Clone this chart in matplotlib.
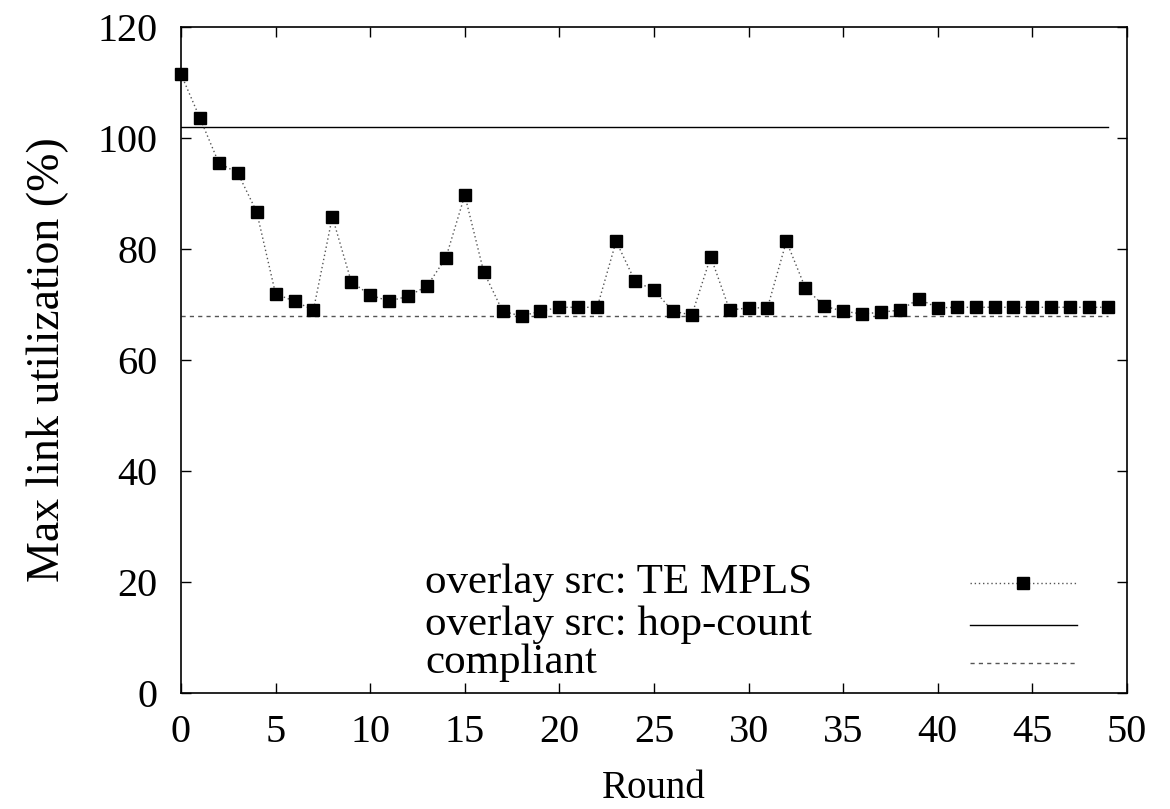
import matplotlib
matplotlib.use("Agg")
import matplotlib.pyplot as plt

plt.rcParams["font.family"] = ["Liberation Serif", "DejaVu Serif"]

# ── Data ──────────────────────────────────────────────────────────────────────
rounds = list(range(50))
te_mpls = [111.5, 103.6, 95.5, 93.7, 86.7, 71.9, 70.6, 69.0, 85.8, 74.1,
           71.7, 70.6, 71.5, 73.3, 78.4, 89.7, 75.9, 68.8, 67.9, 68.8,
           69.5, 69.5, 69.5, 81.4, 74.2, 72.6, 68.8, 68.1, 78.6, 69.0,
           69.4, 69.4, 81.4, 73.0, 69.7, 68.8, 68.3, 68.6, 69.0, 71.0,
           69.4, 69.5, 69.5, 69.5, 69.5, 69.5, 69.5, 69.5, 69.5, 69.5]
hop_count = 102.0
compliant = 68.0
labels = ["overlay src: TE MPLS", "overlay src: hop-count", "compliant"]

fig = plt.figure(figsize=(11.7, 8.09), dpi=100)
ax = fig.add_axes([0.1547, 0.1434, 0.9632 - 0.1547, 0.9666 - 0.1434])

te_style = dict(color="#555555", ls=(0, (1, 2)), lw=1.0)
hop_style = dict(color="black", lw=1.0)
comp_style = dict(color="#555555", ls=(0, (3, 3)), lw=1.0)
mk = dict(marker="s", ms=9, mfc="black", mec="black")

ax.plot(rounds, te_mpls, **te_style, **mk, clip_on=False, zorder=3)
ax.plot([rounds[0], rounds[-1]], [hop_count, hop_count], **hop_style)
ax.plot([rounds[0], rounds[-1]], [compliant, compliant], **comp_style)

ax.set_xlim(0, 50)
ax.set_ylim(0, 120)
ax.set_xticks(range(0, 51, 5))
ax.set_yticks(range(0, 121, 20))
ax.tick_params(direction="in", length=7, width=1, top=True, right=True,
               labelsize=29)
ax.tick_params(axis="x", pad=15)
ax.tick_params(axis="y", pad=17)
for s in ax.spines.values():
    s.set_linewidth(1.2)

ax.set_xlabel("Round", fontsize=28, labelpad=14)
ax.set_ylabel("Max link utilization (%)", fontsize=33, labelpad=20)

# ── Legend (gnuplot style: left-justified text, sample on the right) ─────────
tx, lx0, lx1 = 0.258, 0.834, 0.947
rows = [0.165, 0.102, 0.045]
styles = [te_style, hop_style, comp_style]
for lab, yy, st in zip(labels, rows, styles):
    ax.text(tx, yy, lab, transform=ax.transAxes, ha="left", va="center",
            fontsize=31)
    ax.plot([lx0, lx1], [yy, yy], transform=ax.transAxes, **st)
ax.plot([(lx0 + lx1) / 2], [rows[0]], transform=ax.transAxes, ls="none", **mk)

fig.savefig("out.png", dpi=100)
